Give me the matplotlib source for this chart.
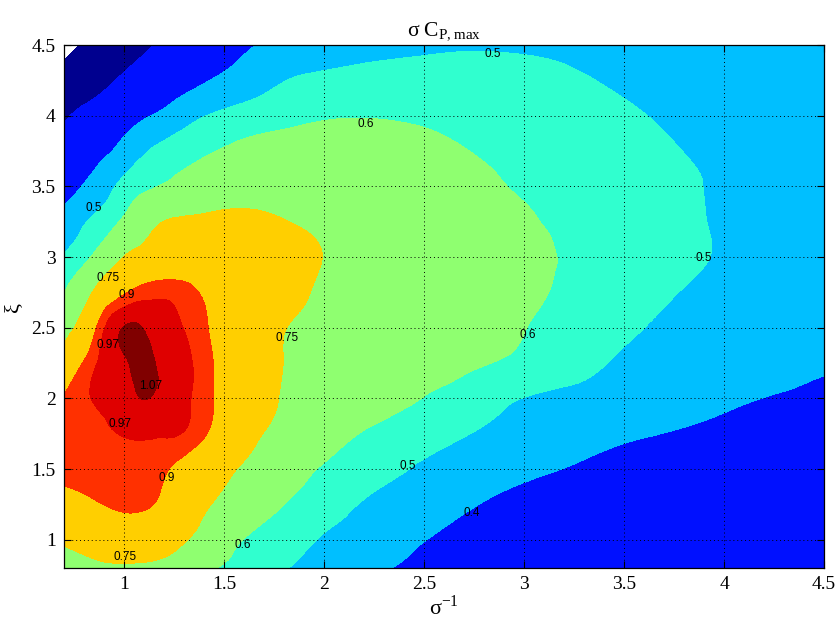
import numpy as np
import matplotlib
matplotlib.use('Agg')
import matplotlib.pyplot as plt
import matplotlib.tri as mtri

sig_inv = [0.7, 0.85, 1.0, 1.1, 1.2, 1.3, 1.45, 1.6, 1.8, 2.0, 2.25, 2.5, 2.75, 3.0, 3.5, 4.0, 4.5]
xi = [0.8, 1.0, 1.25, 1.5, 1.75, 2.0, 2.25, 2.5, 2.75, 3.0, 3.25, 3.5, 3.75, 4.0, 4.25, 4.5]

# one row per xi value
cp = [
    [0.71, 0.73, 0.735, 0.73, 0.715, 0.68, 0.605, 0.565, 0.505, 0.465, 0.415, 0.38, 0.36, 0.345, 0.325, 0.315, 0.31],
    [0.765, 0.80, 0.83, 0.83, 0.81, 0.76, 0.68, 0.597, 0.545, 0.49, 0.445, 0.402, 0.375, 0.355, 0.335, 0.325, 0.315],
    [0.86, 0.89, 0.915, 0.91, 0.88, 0.82, 0.745, 0.69, 0.60, 0.545, 0.48, 0.44, 0.403, 0.38, 0.35, 0.335, 0.325],
    [0.925, 0.94, 0.955, 0.94, 0.91, 0.865, 0.79, 0.74, 0.66, 0.59, 0.535, 0.485, 0.445, 0.415, 0.38, 0.36, 0.345],
    [0.94, 0.95, 0.975, 0.985, 0.98, 0.965, 0.875, 0.79, 0.715, 0.655, 0.58, 0.54, 0.497, 0.46, 0.41, 0.385, 0.37],
    [0.905, 0.975, 1.03, 1.072, 1.04, 0.99, 0.898, 0.82, 0.74, 0.69, 0.655, 0.597, 0.55, 0.498, 0.46, 0.415, 0.385],
    [0.81, 0.955, 1.06, 1.085, 1.05, 1.0, 0.898, 0.84, 0.748, 0.70, 0.665, 0.64, 0.61, 0.575, 0.49, 0.45, 0.41],
    [0.70, 0.88, 1.075, 1.065, 1.01, 0.968, 0.885, 0.835, 0.755, 0.715, 0.68, 0.655, 0.63, 0.602, 0.515, 0.46, 0.435],
    [0.598, 0.76, 0.89, 0.935, 0.95, 0.93, 0.87, 0.835, 0.79, 0.73, 0.69, 0.665, 0.64, 0.615, 0.545, 0.47, 0.44],
    [0.51, 0.615, 0.752, 0.79, 0.81, 0.83, 0.84, 0.83, 0.80, 0.748, 0.71, 0.68, 0.655, 0.615, 0.565, 0.49, 0.45],
    [0.43, 0.52, 0.62, 0.70, 0.752, 0.765, 0.78, 0.785, 0.755, 0.725, 0.69, 0.665, 0.64, 0.61, 0.55, 0.49, 0.455],
    [0.375, 0.43, 0.53, 0.58, 0.61, 0.645, 0.675, 0.69, 0.695, 0.69, 0.675, 0.655, 0.625, 0.59, 0.54, 0.49, 0.455],
    [0.33, 0.37, 0.43, 0.49, 0.53, 0.56, 0.598, 0.625, 0.645, 0.655, 0.65, 0.63, 0.597, 0.57, 0.53, 0.48, 0.45],
    [0.29, 0.33, 0.36, 0.39, 0.42, 0.46, 0.51, 0.54, 0.57, 0.59, 0.595, 0.585, 0.57, 0.55, 0.51, 0.47, 0.445],
    [0.23, 0.27, 0.31, 0.33, 0.35, 0.37, 0.405, 0.44, 0.497, 0.52, 0.535, 0.54, 0.54, 0.53, 0.49, 0.46, 0.445],
    [0.18, 0.22, 0.264, 0.29, 0.31, 0.333, 0.36, 0.39, 0.42, 0.445, 0.465, 0.48, 0.49, 0.485, 0.47, 0.455, 0.445],
]

levels = [0.2, 0.3, 0.4, 0.5, 0.6, 0.75, 0.9, 0.97, 1.07, 1.2]
band_colors = ['#00008F', '#0010FF', '#00BFFF', '#30FFCF', '#8FFF70',
               '#FFCF00', '#FF3000', '#DF0000', '#800000']

# contour labels: level and where it sits
label_levels = [0.5, 0.6, 0.5, 0.5, 0.75, 0.9, 0.97, 0.75, 0.6, 1.07, 0.97, 0.9, 0.5, 0.4, 0.6, 0.75]
label_pos = [(2.845, 4.44), (2.21, 3.94), (0.85, 3.35), (3.90, 2.99), (0.92, 2.85),
             (1.015, 2.73), (0.92, 2.38), (1.815, 2.43), (3.02, 2.45), (1.135, 2.09),
             (0.98, 1.82), (1.215, 1.44), (2.42, 1.52), (2.74, 1.19), (1.595, 0.96),
             (1.005, 0.88)]

serif = 'Liberation Serif'

fig = plt.figure(figsize=(8.4, 6.21), dpi=100)
ax = fig.add_axes([0.0762, 0.0853, 0.9048, 0.8422])

# smooth the read grid with matplotlib's cubic triangulation refiner
X, Y = np.meshgrid(sig_inv, xi)
Z = np.array(cp)
triang = mtri.Triangulation(X.ravel(), Y.ravel())
interp = mtri.CubicTriInterpolator(triang, Z.ravel(), kind='min_E')
refiner = mtri.UniformTriRefiner(triang)
tri_fine, z_fine = refiner.refine_field(Z.ravel(), triinterpolator=interp, subdiv=3)
ax.tricontourf(tri_fine, z_fine, levels=levels, colors=band_colors)

for lv, (lx, ly) in zip(label_levels, label_pos):
    ax.text(lx, ly, f'{lv:g}', fontsize=8.5, family='Liberation Sans',
            ha='center', va='center', zorder=4)

ax.set_xlim(0.7, 4.5)
ax.set_ylim(0.8, 4.5)
ax.set_xticks([1, 1.5, 2, 2.5, 3, 3.5, 4, 4.5])
ax.set_yticks([1, 1.5, 2, 2.5, 3, 3.5, 4, 4.5])
ax.set_xticklabels(['1', '1.5', '2', '2.5', '3', '3.5', '4', '4.5'])
ax.set_yticklabels(['1', '1.5', '2', '2.5', '3', '3.5', '4', '4.5'])
ax.tick_params(direction='in', length=5, width=0.8, top=True, right=True,
               labelsize=14, pad=6)
for lab in ax.get_xticklabels() + ax.get_yticklabels():
    lab.set_family(serif)

ax.grid(True, linestyle=(0, (1, 3)), color='k', linewidth=0.7)
ax.set_axisbelow(False)
for sp in ax.spines.values():
    sp.set_linewidth(0.9)

ax.set_title('σ C$_\\mathregular{P,max}$', family=serif, fontsize=15.5, pad=7)
ax.set_xlabel('σ$^\\mathregular{-1}$', family=serif, fontsize=16, labelpad=1)
ax.set_ylabel('ξ', family=serif, fontsize=16, labelpad=6)

fig.savefig('out.png', dpi=100)
